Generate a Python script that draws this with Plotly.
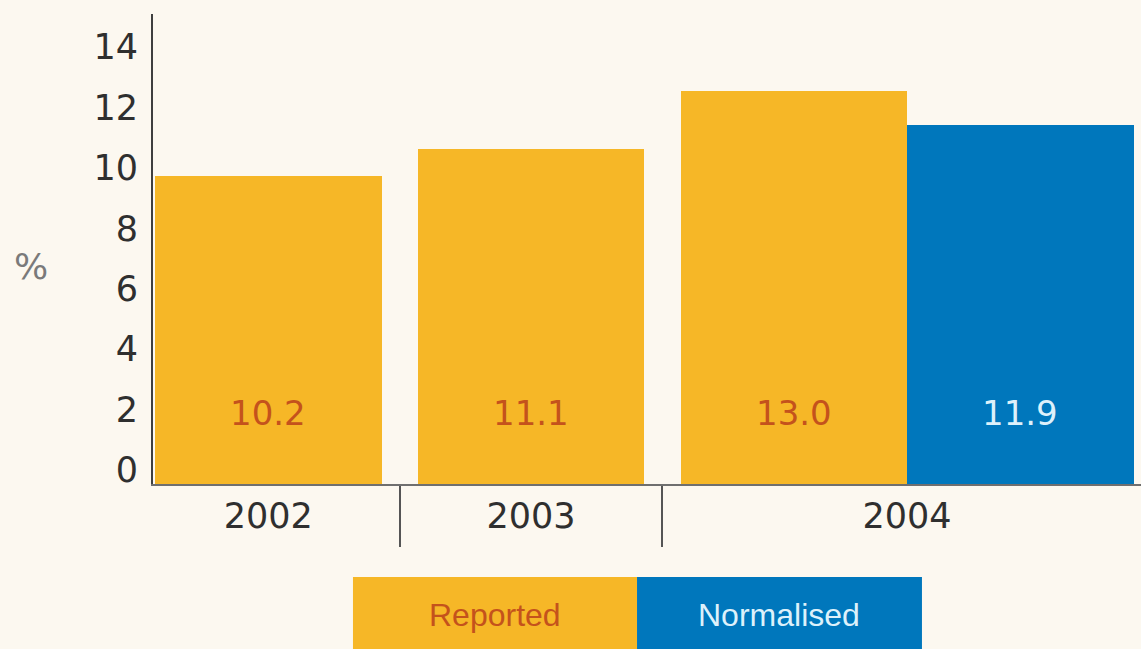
import plotly.graph_objects as go

# ---- data ----
years = ["2002", "2003", "2004"]
reported = [10.2, 11.1, 13.0]
normalised_year = "2004"
normalised = [11.9]
series_names = ["Reported", "Normalised"]
y_ticks = [0, 2, 4, 6, 8, 10, 12, 14]

# ---- style ----
BG = "#FCF8F0"
ORANGE = "#F6B727"
BLUE = "#0077BC"
LBL_ORANGE = "#C4521C"
LBL_BLUE = "#DDF1FB"
AXIS = "#3f3f3f"
TXT = "#2f2f2f"
FONT = "DejaVu Sans"

# layout of slots: bar width 1, gap between year groups
BW = 1.0
GAP = 0.16
x_rep = []
x_norm = []
sep = []
pos = 0.0
for i, y in enumerate(years):
    x_rep.append(pos)
    right_edge = pos + BW / 2
    if y == normalised_year:
        x_norm.append(pos + BW)
        right_edge = pos + BW + BW / 2
    if i < len(years) - 1:
        sep.append(right_edge + GAP / 2)
    pos = right_edge + GAP + BW / 2

group_centers = []
for i, y in enumerate(years):
    if y == normalised_year:
        group_centers.append((x_rep[i] + x_norm[0]) / 2)
    else:
        group_centers.append(x_rep[i])

fig = go.Figure()
fig.add_trace(go.Bar(x=x_rep, y=reported, width=BW, name=series_names[0],
                     marker=dict(color=ORANGE, line=dict(width=0)),
                     showlegend=False, hoverinfo="y"))
fig.add_trace(go.Bar(x=x_norm, y=normalised, width=BW, name=series_names[1],
                     marker=dict(color=BLUE, line=dict(width=0)),
                     showlegend=False, hoverinfo="y"))

# value labels near the bar bases
for xv, v in zip(x_rep, reported):
    fig.add_annotation(x=xv, y=0, xref="x", yref="y", yshift=71,
                       text=f"{v:.1f}", showarrow=False, yanchor="middle",
                       font=dict(family=FONT, size=34, color=LBL_ORANGE))
for xv, v in zip(x_norm, normalised):
    fig.add_annotation(x=xv, y=0, xref="x", yref="y", yshift=71,
                       text=f"{v:.1f}", showarrow=False, yanchor="middle",
                       font=dict(family=FONT, size=34, color=LBL_BLUE))

# y-axis title "%"
fig.add_annotation(x=-0.1235, y=0.4638, xref="paper", yref="paper",
                   text="%", showarrow=False, xanchor="center",
                   font=dict(family=FONT, size=36, color="#7a7a7a"))

# custom legend boxes
legend_boxes = [(0.2024, 0.4899, ORANGE, LBL_ORANGE), (0.4899, 0.7783, BLUE, LBL_BLUE)]
for (x0, x1, fc, tc), name in zip(legend_boxes, series_names):
    fig.add_shape(type="rect", xref="paper", yref="paper", x0=x0, x1=x1,
                  y0=-0.40, y1=-0.198, fillcolor=fc, line=dict(width=0), layer="above")
    fig.add_annotation(x=(x0 + x1) / 2, y=-0.279, xref="paper", yref="paper",
                       text=name, showarrow=False, yanchor="middle",
                       font=dict(family="Liberation Sans", size=32, color=tc))

x_min = x_rep[0] - BW / 2 - 0.009
x_max = x_min + 988 / 226.5

fig.update_layout(
    width=1141, height=649,
    margin=dict(l=153, r=0, t=14, b=165),
    paper_bgcolor=BG, plot_bgcolor=BG,
    bargap=0,
    xaxis=dict(range=[x_min, x_max], showgrid=False, zeroline=False,
               showline=True, linecolor="#6f6f6f", linewidth=2,
               tickmode="array", tickvals=group_centers, ticktext=years,
               ticks="", tickfont=dict(family=FONT, size=35, color=TXT),
               ticklabelstandoff=0,
               minor=dict(tickmode="array", tickvals=sep, ticks="outside",
                          ticklen=61, tickwidth=2, tickcolor="#555555"),
               fixedrange=True),
    yaxis=dict(range=[0, 15.56], showgrid=False, zeroline=False,
               showline=True, linecolor=AXIS, linewidth=2,
               tickmode="array", tickvals=y_ticks,
               ticks="", ticklabelshift=-14, ticklabelstandoff=6,
               tickfont=dict(family=FONT, size=35, color=TXT),
               fixedrange=True),
)

fig.write_html(
    "out.html",
    config={"displayModeBar": False},
    post_script=(
        "document.body.style.margin='0';"
        "document.body.style.background='" + BG + "';"
        "document.body.style.overflow='hidden';"
    ),
)
